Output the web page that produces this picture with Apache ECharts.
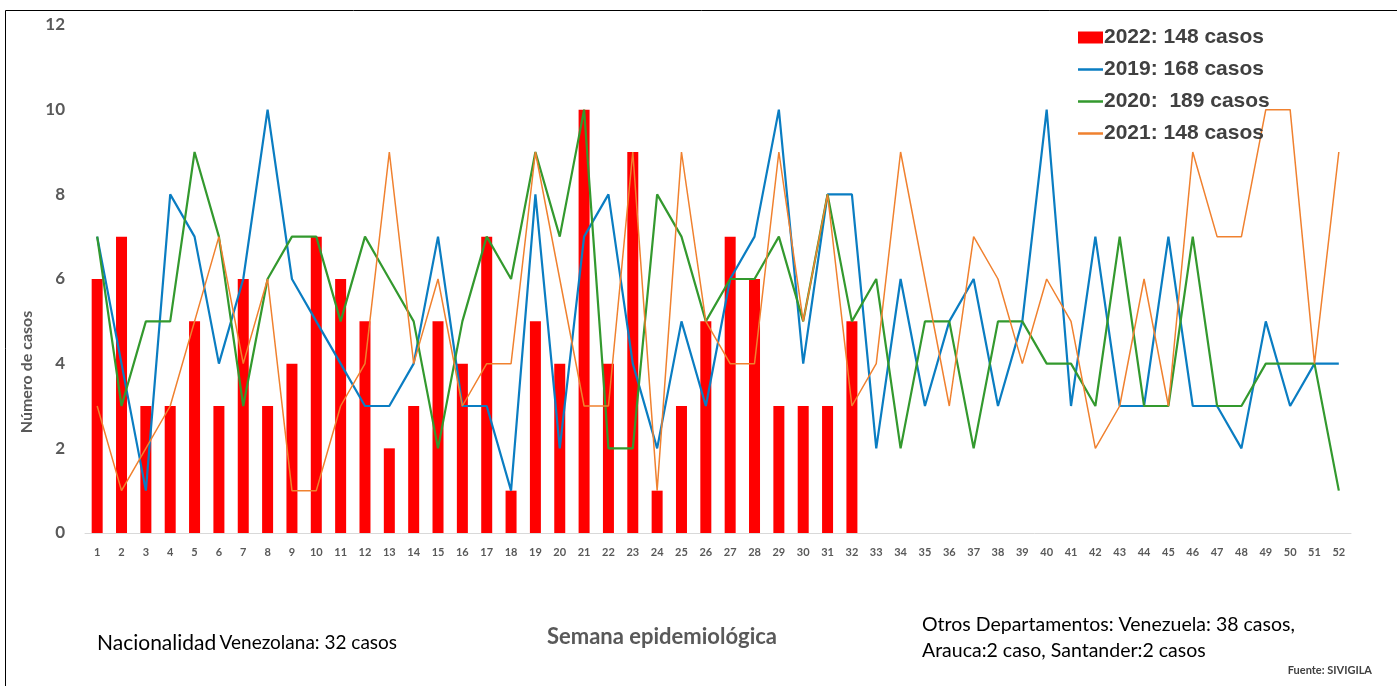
<!DOCTYPE html>
<html lang="es">
<head>
<meta charset="UTF-8">
<title>Casos por semana epidemiológica</title>
<style>
  html, body { margin: 0; padding: 0; width: 100%; height: 100%; background: #fff; }
  #main { width: 1397px; height: 686px; }
</style>
</head>
<body>
<div id="main"></div>
<script src="https://cdn.jsdelivr.net/npm/echarts@6/dist/echarts.min.js"></script>
<script>
var semanas = [];
for (var i = 1; i <= 52; i++) semanas.push(String(i));

// 2022 solo hasta la semana 32
var casos2022 = [6, 7, 3, 3, 5, 3, 6, 3, 4, 7, 6, 5, 2, 3, 5, 4, 7, 1, 5, 4, 10, 4, 9, 1, 3, 5, 7, 6, 3, 3, 3, 5];
var casos2019 = [7, 4, 1, 8, 7, 4, 6, 10, 6, 5, 4, 3, 3, 4, 7, 3, 3, 1, 8, 2, 7, 8, 4, 2, 5, 3,
                 6, 7, 10, 4, 8, 8, 2, 6, 3, 5, 6, 3, 5, 10, 3, 7, 3, 3, 7, 3, 3, 2, 5, 3, 4, 4];
var casos2020 = [7, 3, 5, 5, 9, 7, 3, 6, 7, 7, 5, 7, 6, 5, 2, 5, 7, 6, 9, 7, 10, 2, 2, 8, 7, 5,
                 6, 6, 7, 5, 8, 5, 6, 2, 5, 5, 2, 5, 5, 4, 4, 3, 7, 3, 3, 7, 3, 3, 4, 4, 4, 1];
var casos2021 = [3, 1, 2, 3, 5, 7, 4, 6, 1, 1, 3, 4, 9, 4, 6, 3, 4, 4, 9, 6, 3, 3, 9, 1, 9, 5,
                 4, 4, 9, 5, 8, 3, 4, 9, 6, 3, 7, 6, 4, 6, 5, 2, 3, 6, 3, 9, 7, 7, 10, 10, 4, 9];

var nombres = ['2022: 148 casos', '2019: 168 casos', '2020:  189 casos', '2021: 148 casos'];

var gris = '#595959';
// icono de linea sin simbolo para la leyenda (caja 25x12)
var iconoLinea = 'path://M0,0L0.01,0L0,0.01Z M0,4.8L25,4.8L25,7.2L0,7.2Z M25,12L24.99,12L25,11.99Z';

var chart = echarts.init(document.getElementById('main'));

var option = {
  animation: false,
  backgroundColor: '#fff',
  grid: { left: 85, right: 46, top: 25, bottom: 153 },
  legend: {
    orient: 'vertical',
    left: 1073,
    top: 22,
    itemGap: 11,
    itemWidth: 25,
    itemHeight: 12,
    textStyle: { fontFamily: 'Liberation Sans', fontWeight: 'bold', fontSize: 21, color: '#404040', padding: [0, 0, 0, -4] },
    data: [
      { name: nombres[0], icon: 'rect' },
      { name: nombres[1], icon: iconoLinea },
      { name: nombres[2], icon: iconoLinea },
      { name: nombres[3], icon: iconoLinea }
    ]
  },
  xAxis: {
    type: 'category',
    data: semanas,
    axisLine: { lineStyle: { color: '#d9d9d9', width: 1 } },
    axisTick: { show: false },
    axisLabel: { interval: 0, color: gris, fontWeight: 'bold', fontSize: 11, fontFamily: 'Lato', margin: 14 }
  },
  yAxis: {
    type: 'value',
    min: 0,
    max: 12,
    interval: 2,
    splitLine: { show: false },
    axisLine: { show: false },
    axisTick: { show: false },
    axisLabel: { color: gris, fontWeight: 'bold', fontSize: 17, fontFamily: 'Lato', margin: 20 }
  },
  series: [
    {
      name: nombres[0],
      type: 'bar',
      data: casos2022,
      barWidth: 11,
      itemStyle: { color: '#ff0000' }
    },
    {
      name: nombres[1],
      type: 'line',
      data: casos2019,
      symbol: 'none',
      lineStyle: { color: '#0a7dc2', width: 2.2 },
      itemStyle: { color: '#0a7dc2' }
    },
    {
      name: nombres[2],
      type: 'line',
      data: casos2020,
      symbol: 'none',
      lineStyle: { color: '#33992e', width: 2.2 },
      itemStyle: { color: '#33992e' }
    },
    {
      name: nombres[3],
      type: 'line',
      data: casos2021,
      symbol: 'none',
      lineStyle: { color: '#f0812f', width: 1.5 },
      itemStyle: { color: '#f0812f' }
    }
  ],
  graphic: [
    {
      type: 'rect',
      shape: { x: 5.5, y: 10.5, width: 1400, height: 690 },
      style: { fill: null, stroke: '#000', lineWidth: 1 },
      silent: true
    },
    {
      type: 'text',
      x: 27, y: 372,
      rotation: Math.PI / 2,
      style: { text: 'Número de casos', fill: gris, font: 'bold 16px Lato', align: 'center', verticalAlign: 'middle' }
    },
    {
      type: 'text',
      x: 662, y: 637,
      style: { text: 'Semana epidemiológica', fill: gris, font: 'bold 22px Lato', align: 'center', verticalAlign: 'middle' }
    },
    {
      type: 'text',
      x: 97, y: 643,
      style: {
        text: '{a|Nacionalidad} {b|Venezolana: 32 casos}',
        verticalAlign: 'middle',
        rich: {
          a: { fontFamily: 'Lato', fontSize: 21, fill: '#000' },
          b: { fontFamily: 'Lato', fontSize: 19, fill: '#000' }
        }
      }
    },
    {
      type: 'text',
      x: 922, y: 625,
      style: { text: 'Otros Departamentos: Venezuela: 38 casos,', fill: '#000', font: '19.5px Lato', verticalAlign: 'middle' }
    },
    {
      type: 'text',
      x: 922, y: 651,
      style: { text: 'Arauca:2 caso, Santander:2 casos', fill: '#000', font: '19.5px Lato', verticalAlign: 'middle' }
    },
    {
      type: 'text',
      x: 1372, y: 670,
      style: { text: 'Fuente: SIVIGILA', fill: '#404040', font: 'bold 11px Lato', align: 'right', verticalAlign: 'middle' }
    }
  ]
};

chart.setOption(option);
window.onresize = function () { chart.resize(); };
</script>
</body>
</html>
